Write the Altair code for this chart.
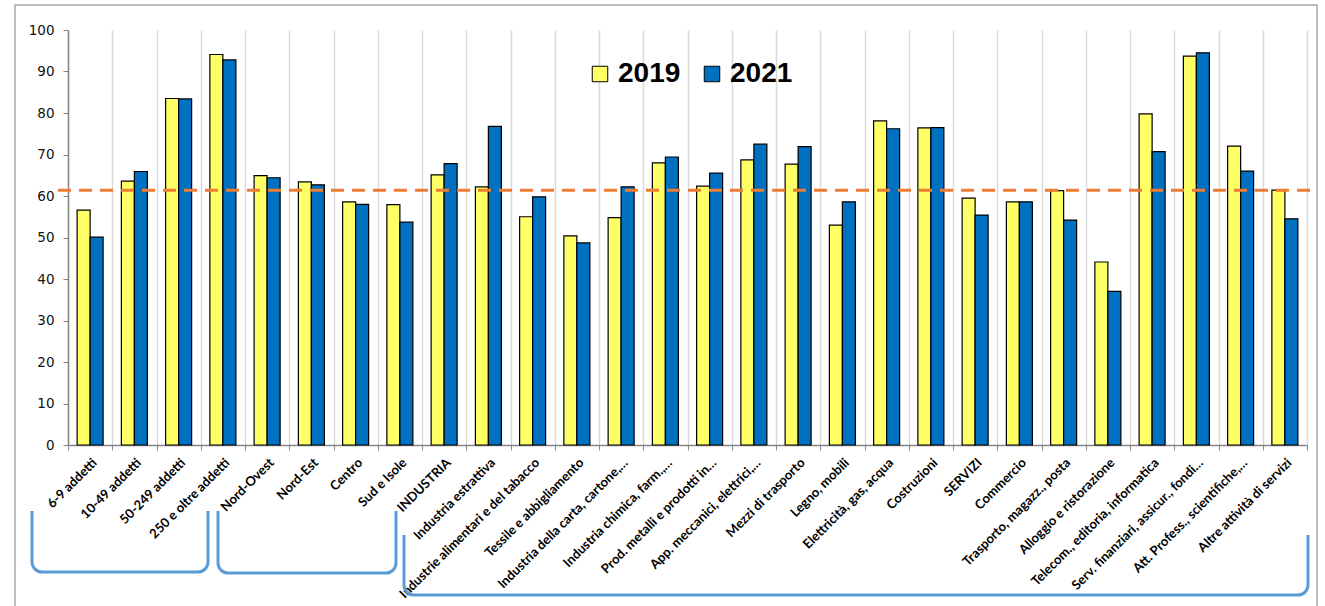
import math
import altair as alt
import pandas as pd

cats = [
    "6-9 addetti", "10-49  addetti", "50-249  addetti", "250 e oltre  addetti",
    "Nord-Ovest", "Nord-Est", "Centro", "Sud e Isole", "INDUSTRIA",
    "Industria estrattiva", "Industrie alimentari e del tabacco",
    "Tessile e abbigliamento", "Industria della carta, cartone,…",
    "Industria chimica, farm.,…", "Prod. metalli e prodotti in…",
    "App. meccanici, elettrici,…", "Mezzi di trasporto", "Legno, mobili",
    "Elettricità, gas, acqua", "Costruzioni", "SERVIZI", "Commercio",
    "Trasporto, magazz., posta", "Alloggio e ristorazione",
    "Telecom., editoria, informatica", "Serv. finanziari, assicur., fondi…",
    "Att. Profess., scientifiche,…", "Altre attività di servizi",
]
v2019 = [56.6, 63.6, 83.5, 94.1, 64.9, 63.4, 58.6, 57.9, 65.1, 62.2, 55.0, 50.4,
         54.8, 68.0, 62.4, 68.7, 67.7, 53.0, 78.1, 76.4, 59.5, 58.6, 61.3, 44.1,
         79.8, 93.7, 72.0, 61.4]
v2021 = [50.1, 65.9, 83.4, 92.8, 64.4, 62.7, 58.0, 53.7, 67.8, 76.8, 59.8, 48.7,
         62.2, 69.4, 65.5, 72.5, 71.9, 58.6, 76.2, 76.5, 55.4, 58.6, 54.2, 37.0,
         70.7, 94.5, 66.0, 54.5]
years = ["2019", "2021"]
colors = ["#FFFF66", "#0070C0"]
average = 61.4

rows = []
for c, a, b in zip(cats, v2019, v2021):
    rows.append({"cat": c, "year": "2019", "value": a})
    rows.append({"cat": c, "year": "2021", "value": b})
df = pd.DataFrame(rows)

W, H = 1239, 415
dummy = pd.DataFrame({"a": [0]})

bars = alt.Chart(df).mark_bar(stroke="black", strokeWidth=1.2).encode(
    x=alt.X("cat:N", sort=cats, title=None,
            scale=alt.Scale(paddingInner=0, paddingOuter=0),
            axis=alt.Axis(labelAngle=-45, labelFont="Lato", labelFontWeight="bold",
                          labelFontSize=13, labelColor="black", labelLimit=0,
                          labelPadding=6, tickBand="extent", grid=True,
                          gridColor="#D9D9D9", gridWidth=1.5, tickSize=5,
                          tickColor="#868686", domainColor="#868686", domainWidth=1.5)),
    xOffset=alt.XOffset("year:N", scale=alt.Scale(paddingInner=0, paddingOuter=0.702)),
    y=alt.Y("value:Q", title=None, scale=alt.Scale(domain=[0, 100]),
            axis=alt.Axis(values=list(range(0, 101, 10)), grid=False, tickSize=5,
                          tickColor="#868686", domainColor="#868686", domainWidth=1.5,
                          labelFont="DejaVu Sans", labelFontSize=13.5, labelColor="#111111",
                          labelPadding=9)),
    color=alt.Color("year:N", scale=alt.Scale(domain=years, range=colors),
                    legend=alt.Legend(orient="none", legendX=518, legendY=30,
                                      direction="horizontal", title=None,
                                      symbolType="square", symbolSize=240,
                                      symbolStrokeColor="black", symbolStrokeWidth=1,
                                      labelFont="Liberation Sans", labelFontWeight="bold",
                                      labelFontSize=28, labelColor="black",
                                      columnPadding=17, labelOffset=4, padding=0)),
)

avg_rule = alt.Chart(pd.DataFrame({"v": [average]})).mark_rule(
    color="#ED7D31", strokeWidth=3, strokeDash=[13, 8]
).encode(y="v:Q", x=alt.value(-10), x2=alt.value(W + 10))

border = alt.Chart(dummy).mark_rect(fillOpacity=0, stroke="#A6A6A6", strokeWidth=1.5).encode(
    x=alt.value(-53), x2=alt.value(W + 10), y=alt.value(-25), y2=alt.value(600))

layers = [border, bars, avg_rule]

blue = "#5B9BD5"
sw = 3
r = 10
brackets = [(-36, 140, 481, 542), (150, 328, 481, 543), (336, 1240, 505, 565)]
for xl, xr, yt, yb in brackets:
    layers.append(alt.Chart(dummy).mark_rule(color=blue, strokeWidth=sw).encode(
        x=alt.value(xl), y=alt.value(yt), y2=alt.value(yb - r)))
    layers.append(alt.Chart(dummy).mark_rule(color=blue, strokeWidth=sw).encode(
        x=alt.value(xr), y=alt.value(yt), y2=alt.value(yb - r)))
    layers.append(alt.Chart(dummy).mark_rule(color=blue, strokeWidth=sw).encode(
        x=alt.value(xl + r), x2=alt.value(xr - r), y=alt.value(yb)))
    layers.append(alt.Chart(dummy).mark_arc(
        color=blue, theta=math.pi, theta2=1.5 * math.pi,
        radius=r + sw / 2, radius2=r - sw / 2).encode(
        x=alt.value(xl + r), y=alt.value(yb - r)))
    layers.append(alt.Chart(dummy).mark_arc(
        color=blue, theta=0.5 * math.pi, theta2=math.pi,
        radius=r + sw / 2, radius2=r - sw / 2).encode(
        x=alt.value(xr - r), y=alt.value(yb - r)))

chart = alt.layer(*layers).properties(
    width=W, height=H,
    autosize=alt.AutoSizeParams(type="none"),
    padding={"left": 68, "top": 30, "right": 18, "bottom": 161},
    background="white",
).configure_view(stroke=None)

chart.save("out.html", embed_options={"renderer": "svg", "actions": False})
